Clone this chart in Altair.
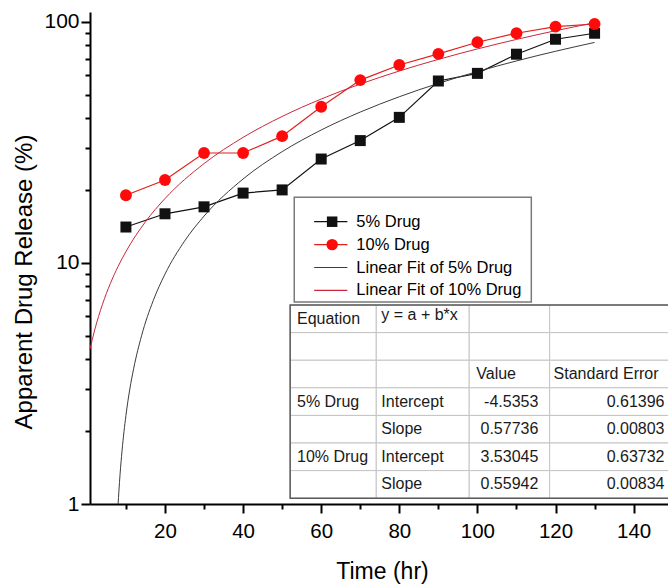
import altair as alt
import pandas as pd

# ---------------- data ----------------
time_hr = [10, 20, 30, 40, 50, 60, 70, 80, 90, 100, 110, 120, 130]
drug5 = [14.1, 16.0, 17.1, 19.5, 20.1, 27.0, 32.2, 40.2, 56.9, 61.2, 73.5, 84.8, 89.8]
drug10 = [19.1, 22.1, 28.6, 28.6, 33.6, 44.5, 57.4, 66.3, 73.7, 82.4, 89.8, 95.6, 98.1]

fit5_x = [8.0, 8.2, 8.5, 9, 10, 11, 12, 14, 17, 20, 25, 30, 40, 50, 60, 70, 80, 90, 100, 110, 120, 130]
fit5_y = [1.0, 1.13, 1.33, 1.66, 2.33, 3.0, 3.66, 4.99, 6.99, 8.99, 12.32, 15.65, 22.31, 28.97,
          35.63, 42.29, 48.95, 55.61, 62.27, 68.93, 75.59, 82.25]
fit10_x = [0.8, 2, 4, 6, 8, 10, 15, 20, 30, 40, 50, 60, 70, 80, 90, 100, 110, 120, 130]
fit10_y = [4.39, 5.27, 6.74, 8.21, 9.68, 11.15, 14.83, 18.5, 25.85, 33.2, 40.55, 47.9,
           55.25, 62.6, 69.95, 77.3, 84.65, 92.0, 99.35]

legend_labels = ["5% Drug", "10% Drug", "Linear Fit of 5% Drug", "Linear Fit of 10% Drug"]

tbl_col1 = ["Equation", "", "", "5% Drug", "", "10% Drug", ""]
tbl_col2 = ["y = a + b*x", "", "", "Intercept", "Slope", "Intercept", "Slope"]
tbl_value = ["", "", "Value", "-4.5353", "0.57736", "3.53045", "0.55942"]
tbl_se = ["", "", "Standard Error", "0.61396", "0.00803", "0.63732", "0.00834"]

x_ticks = [10, 20, 30, 40, 50, 60, 70, 80, 90, 100, 110, 120, 130, 140]
y_ticks = [1, 2, 3, 4, 5, 6, 7, 8, 9, 10, 20, 30, 40, 50, 60, 70, 80, 90, 100]

# ---------------- layout ----------------
FONT = "Liberation Sans"
NARROW = "Liberation Sans Narrow, Arial Narrow, Liberation Sans"
X_DOMAIN = [0.8, 148.8]
Y_DOMAIN = [1, 110]
ROW_DOMAIN = [-10.62, 7.21]

BLACK = "#111111"
RED = "#ff0a0a"
RED_LINE = "#e0201c"
FIT_BLACK = "#3c3c3c"
FIT_RED = "#c8283c"

x_major = "datum.value % 20 == 0"
y_major = "datum.value == 1 || datum.value == 10 || datum.value == 100"

x_axis = alt.Axis(
    values=x_ticks, format="d",
    labelExpr=f"{x_major} ? datum.label : ''",
    tickSize={"condition": {"test": x_major, "value": 9}, "value": 5},
    tickWidth=2, tickColor="black", domainWidth=2, domainColor="black",
    labelFont=NARROW, labelFontSize=20.5, labelColor="black", labelPadding=8,
    labelFlush=False, grid=False,
    title="Time (hr)", titleFont=FONT, titleFontSize=23, titleFontWeight="normal",
    titleColor="black", titleX=292, titleY=74, titleAlign="center",
    titleBaseline="alphabetic",
)

y_axis = alt.Axis(
    values=y_ticks, format="d",
    labelExpr=f"{y_major} ? datum.label : ''",
    tickSize={"condition": {"test": y_major, "value": 9}, "value": 5},
    tickWidth=2, tickColor="black", domainWidth=2, domainColor="black",
    labelFont=NARROW, labelFontSize=21, labelColor="black", labelPadding=2,
    labelFlush=False, grid=False,
    title="Apparent Drug Release (%)", titleFont=FONT, titleFontSize=24,
    titleFontWeight="normal", titleColor="black", titleAngle=270,
    titleX=-59, titleY=269.5, titleAlign="center", titleBaseline="alphabetic",
)


def xenc(field):
    return alt.X(f"{field}:Q", scale=alt.Scale(domain=X_DOMAIN, nice=False, zero=False), axis=x_axis)


def yenc(field, axis=None):
    return alt.Y(f"{field}:Q", scale=alt.Scale(type="log", domain=Y_DOMAIN, nice=False), axis=axis)


def renc(field):
    return alt.Y(f"{field}:Q", scale=alt.Scale(domain=ROW_DOMAIN, reverse=True, nice=False, zero=False), axis=None)


# ---------------- main data ----------------
d5 = pd.DataFrame({"t": time_hr, "v": drug5})
d10 = pd.DataFrame({"t": time_hr, "v": drug10})
f5 = pd.DataFrame({"t": fit5_x, "v": fit5_y})
f10 = pd.DataFrame({"t": fit10_x, "v": fit10_y})

line5 = alt.Chart(d5).mark_line(color=BLACK, strokeWidth=1.2).encode(
    x=xenc("t"), y=yenc("v", y_axis))
line10 = alt.Chart(d10).mark_line(color=RED_LINE, strokeWidth=1.2).encode(
    x=xenc("t"), y=yenc("v"))
fitl5 = alt.Chart(f5).mark_line(color=FIT_BLACK, strokeWidth=1, interpolate="monotone").encode(
    x=xenc("t"), y=yenc("v"))
fitl10 = alt.Chart(f10).mark_line(color=FIT_RED, strokeWidth=1, interpolate="monotone").encode(
    x=xenc("t"), y=yenc("v"))
pts5 = alt.Chart(d5).mark_point(shape="square", filled=True, size=121, color=BLACK, opacity=1).encode(
    x=xenc("t"), y=yenc("v"))
pts10 = alt.Chart(d10).mark_point(shape="circle", filled=True, size=140, color=RED, opacity=1).encode(
    x=xenc("t"), y=yenc("v"))

# ---------------- legend ----------------
leg_rows = [-3.02, -2.19, -1.36, -0.53]
leg = pd.DataFrame({"name": legend_labels, "row": leg_rows,
                    "xa": [58.2] * 4, "xb": [66.7] * 4, "xm": [62.8] * 4, "xt": [69.0] * 4})
leg_color = alt.Color("name:N", scale=alt.Scale(domain=legend_labels,
                                                range=[BLACK, RED_LINE, FIT_BLACK, FIT_RED]), legend=None)
leg_box = alt.Chart(pd.DataFrame({"x0": [53.1], "x1": [113.8], "r0": [-3.91], "r1": [-0.11]})).mark_rect(
    fill="white", stroke="#7a7a7a", strokeWidth=1.5).encode(
    x=xenc("x0"), x2="x1", y=renc("r0"), y2="r1")
leg_lines = alt.Chart(leg).mark_rule(strokeWidth=1.2).encode(
    x=xenc("xa"), x2="xb", y=renc("row"), color=leg_color)
leg_sq = alt.Chart(leg.iloc[[0]]).mark_point(shape="square", filled=True, size=110, color=BLACK, opacity=1).encode(
    x=xenc("xm"), y=renc("row"))
leg_ci = alt.Chart(leg.iloc[[1]]).mark_point(shape="circle", filled=True, size=130, color=RED, opacity=1).encode(
    x=xenc("xm"), y=renc("row"))
leg_txt = alt.Chart(leg).mark_text(align="left", baseline="middle", font=FONT, fontSize=16.5,
                                    color="black").encode(x=xenc("xt"), y=renc("row"), text="name:N")

# ---------------- table ----------------
col_edges = [52.05, 74.1, 97.9, 118.5, 152.0]
cells = pd.DataFrame([
    {"x0": col_edges[c], "x1": col_edges[c + 1], "r0": r, "r1": r + 1}
    for r in range(len(tbl_col1)) for c in range(4)
])
tbl_cells = alt.Chart(cells).mark_rect(fill="white", stroke="#c4c4c4", strokeWidth=1).encode(
    x=xenc("x0"), x2="x1", y=renc("r0"), y2="r1")
tbl_border = alt.Chart(pd.DataFrame({"x0": [col_edges[0]], "x1": [col_edges[-1]], "r0": [0],
                                     "r1": [len(tbl_col1)]})).mark_rect(
    fillOpacity=0, stroke="#5a5a5a", strokeWidth=1.5).encode(
    x=xenc("x0"), x2="x1", y=renc("r0"), y2="r1")

left_txt = []
right_txt = []
for r in range(len(tbl_col1)):
    yc = r + 0.5 - (0.15 if r == 0 and tbl_col2[r].startswith("y") else 0)
    if tbl_col1[r]:
        left_txt.append({"x": 53.8, "row": r + 0.5, "t": tbl_col1[r]})
    if tbl_col2[r]:
        left_txt.append({"x": 75.4, "row": yc, "t": tbl_col2[r]})
    if r == 2:
        left_txt.append({"x": 99.7, "row": r + 0.5, "t": tbl_value[r]})
        left_txt.append({"x": 119.5, "row": r + 0.5, "t": tbl_se[r]})
    elif tbl_value[r]:
        right_txt.append({"x": 115.6, "row": r + 0.5, "t": tbl_value[r]})
        right_txt.append({"x": 147.9, "row": r + 0.5, "t": tbl_se[r]})

tbl_ltxt = alt.Chart(pd.DataFrame(left_txt)).mark_text(
    align="left", baseline="middle", font=FONT, fontSize=16, color="#1a1a1a").encode(
    x=xenc("x"), y=renc("row"), text="t:N")
tbl_rtxt = alt.Chart(pd.DataFrame(right_txt)).mark_text(
    align="right", baseline="middle", font=FONT, fontSize=16, color="#1a1a1a").encode(
    x=xenc("x"), y=renc("row"), text="t:N")

chart = alt.layer(
    line5, line10, fitl5, fitl10, pts5, pts10,
    leg_box, leg_lines, leg_sq, leg_ci, leg_txt,
    tbl_cells, tbl_border, tbl_ltxt, tbl_rtxt,
).resolve_scale(y="independent", color="independent").properties(
    width=578, height=492,
    autosize=alt.AutoSizeParams(type="none"),
    padding={"left": 90, "top": 12, "right": 0, "bottom": 81},
    background="white",
).configure_view(stroke=None)

chart.save("out.html", embed_options={"renderer": "svg", "actions": False})
